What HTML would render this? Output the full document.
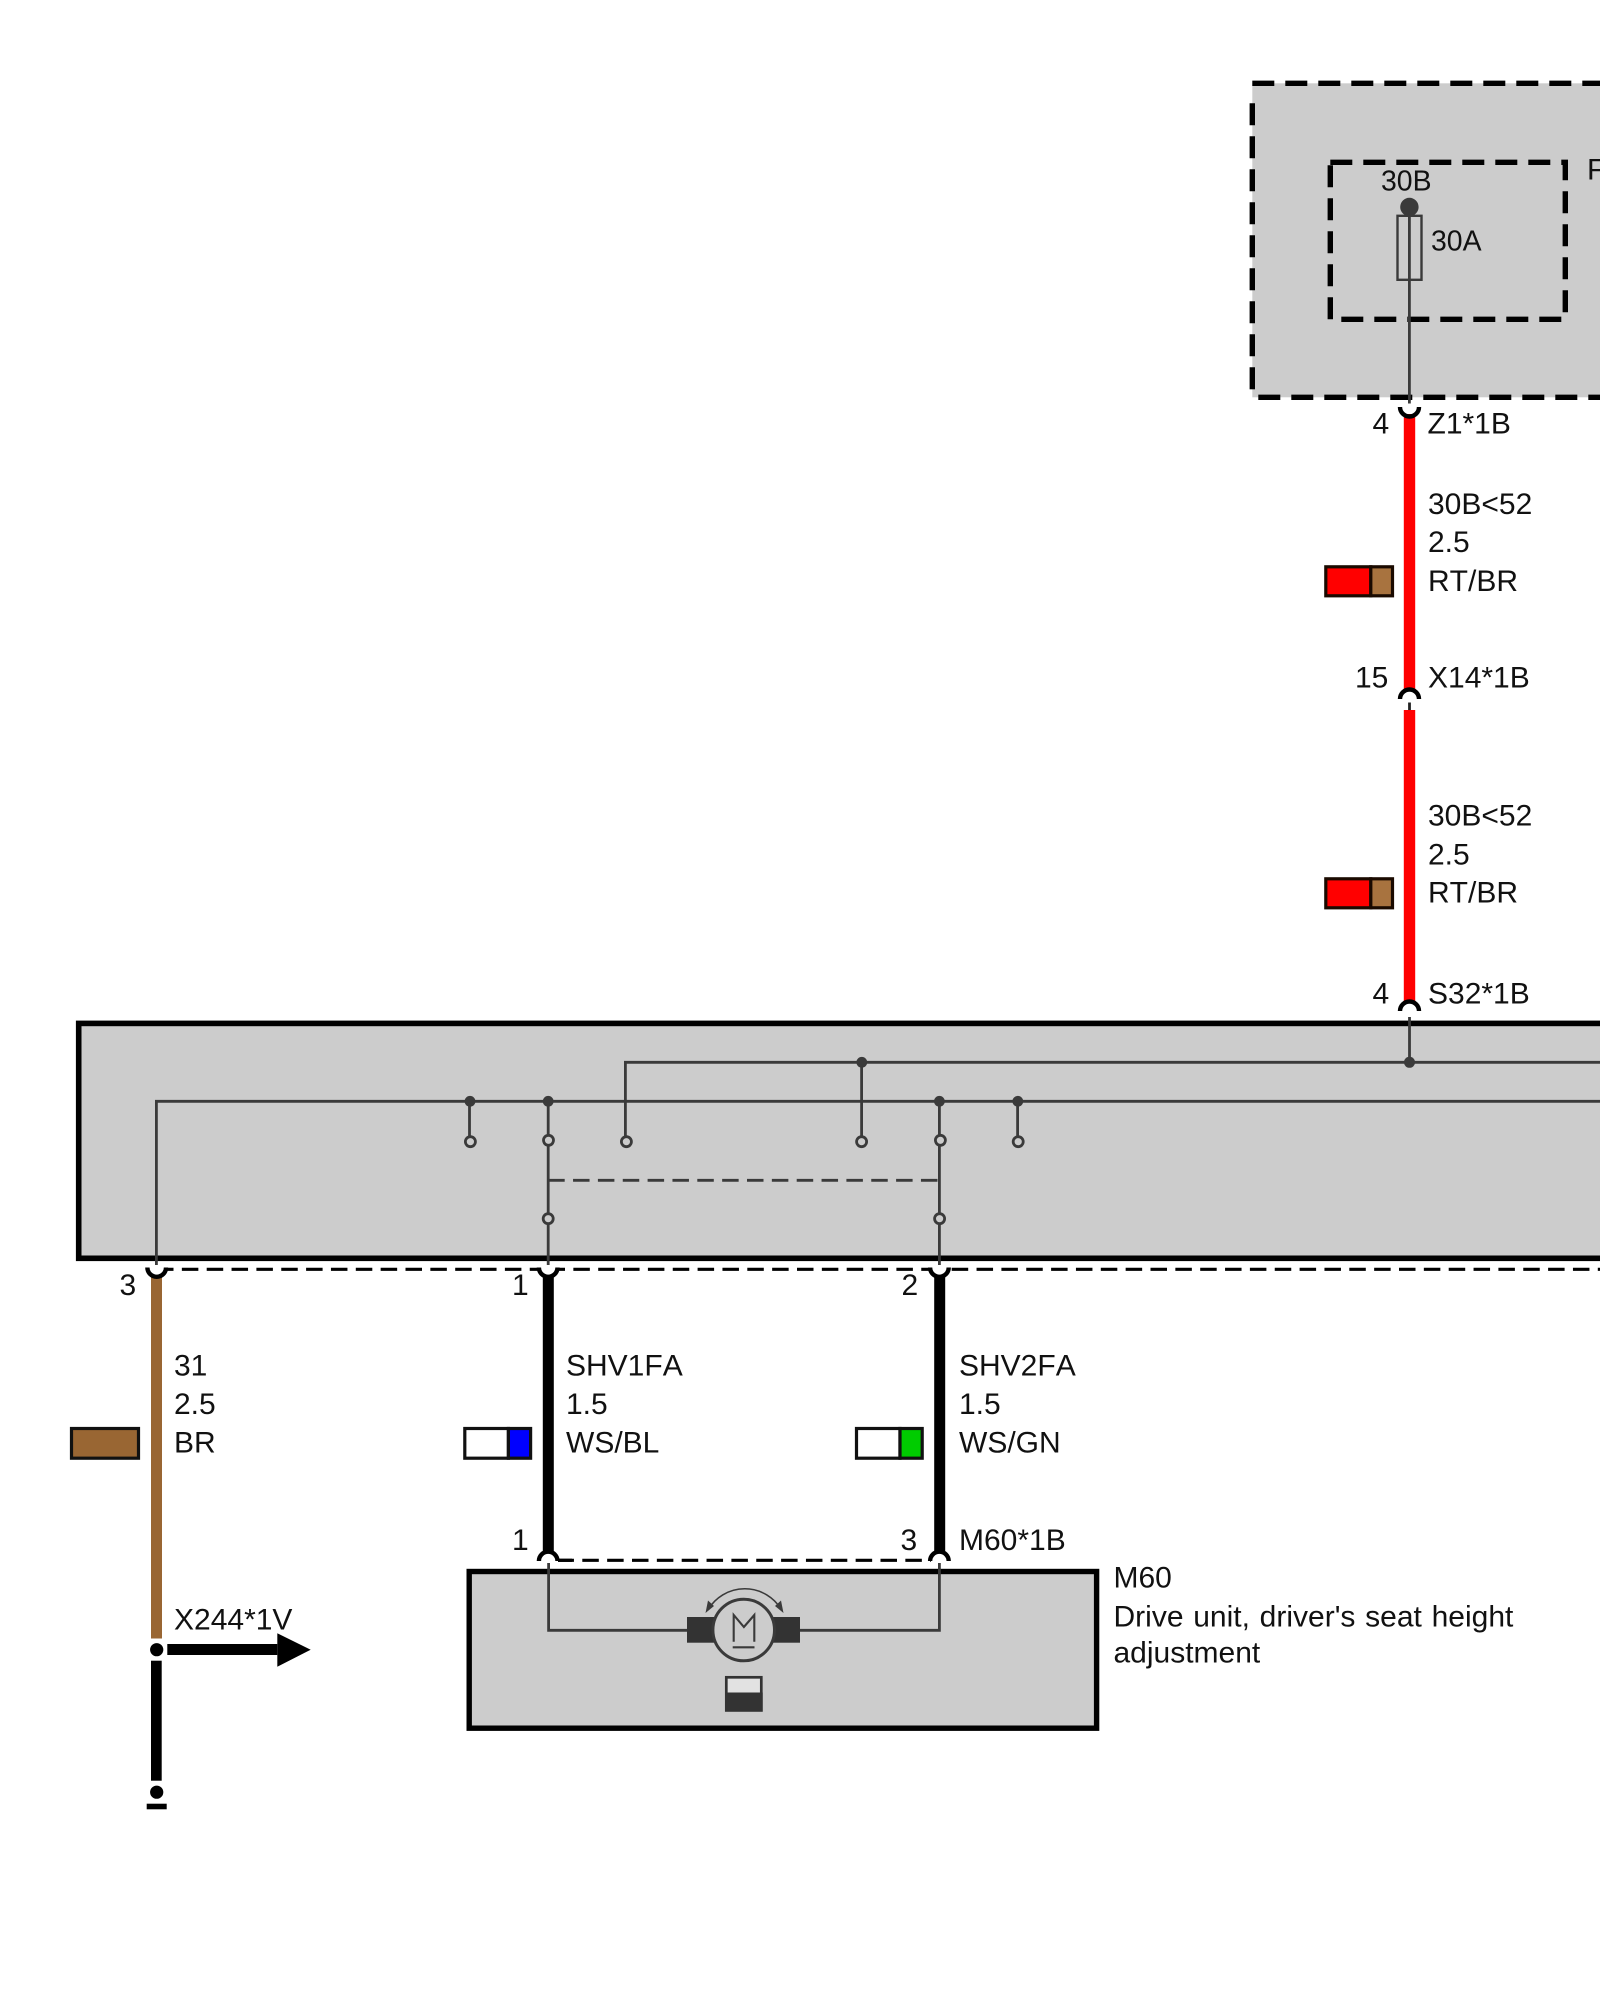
<!DOCTYPE html>
<html><head><meta charset="utf-8"><title>Wiring diagram</title>
<style>html,body{margin:0;padding:0;background:#fff}svg{display:block}text{font-family:"Liberation Sans",sans-serif;font-size:30px;fill:#111;font-kerning:none}</style>
</head><body>
<svg xmlns="http://www.w3.org/2000/svg" width="1600" height="2000" viewBox="0 0 1600 2000">
<rect width="1600" height="2000" fill="#fff"/>

<!-- upper fuse box -->
<rect x="1252.3" y="83.3" width="360" height="314" fill="#ccc"/>
<g fill="none" stroke="#000" stroke-width="5.4" stroke-dasharray="22 11">
<path d="M1252.3 83.3H1600"/>
<path d="M1252.3 103.3V397.3"/>
<path d="M1258.3 397.3H1600"/>
<path d="M1330.3 162.3H1565.3V319.3H1330.3V162.3"/>
</g>
<line x1="1409.4" y1="207" x2="1409.4" y2="403.5" stroke="#3a3a3a" stroke-width="2.8"/>
<circle cx="1409.4" cy="207" r="9.2" fill="#3a3a3a"/>
<rect x="1397.5" y="215.8" width="24" height="64" fill="none" stroke="#3a3a3a" stroke-width="2.4"/>
<text x="1381" y="190.7" style="font-size:28.4px">30B</text>
<text x="1431" y="250.7" style="font-size:28.4px">30A</text>
<text x="1587" y="179.3">F</text>

<!-- red wires -->
<rect x="1403.8" y="414" width="11.4" height="276" fill="#f00"/>
<rect x="1403.8" y="710" width="11.4" height="293" fill="#f00"/>
<path d="M1400 407A9.5 9.5 0 0 0 1419 407" fill="none" stroke="#000" stroke-width="4.4"/>
<path d="M1400 699A9.5 9.5 0 0 1 1419 699" fill="none" stroke="#000" stroke-width="4.4"/>
<line x1="1409.5" y1="702.5" x2="1409.5" y2="710" stroke="#222" stroke-width="2.8"/>
<path d="M1400 1011A9.5 9.5 0 0 1 1419 1011" fill="none" stroke="#000" stroke-width="4.4"/>

<text x="1372.5" y="433.3">4</text>
<text x="1427.5" y="433.3">Z1*1B</text>
<text x="1428" y="514">30B&lt;52</text>
<text x="1428" y="552">2.5</text>
<text x="1428" y="591">RT/BR</text>
<text x="1355" y="687.7">15</text>
<text x="1428" y="687.7">X14*1B</text>
<text x="1428" y="825.7">30B&lt;52</text>
<text x="1428" y="864.3">2.5</text>
<text x="1428" y="902.7">RT/BR</text>
<text x="1372.5" y="1003.3">4</text>
<text x="1428" y="1003.3">S32*1B</text>

<!-- red swatches -->
<g stroke="#1a0a00" stroke-width="3.2">
<rect x="1325.8" y="566.8" width="45" height="29" fill="#f00"/>
<rect x="1370.8" y="566.8" width="21.7" height="29" fill="#a8733f"/>
<rect x="1325.8" y="878.8" width="45" height="29" fill="#f00"/>
<rect x="1370.8" y="878.8" width="21.7" height="29" fill="#a8733f"/>
</g>

<!-- main control box -->
<rect x="78.7" y="1023.4" width="1540" height="234.9" fill="#ccc" stroke="#000" stroke-width="5.6"/>
<g fill="none" stroke="#3a3a3a" stroke-width="2.8">
<path d="M156.4 1265V1101.3H1600"/>
<path d="M625.4 1141.7V1062.3H1600"/>
<path d="M1409.5 1017V1062.3"/>
<path d="M469.5 1101.3V1141.7"/>
<path d="M548.2 1101.3V1265"/>
<path d="M861.6 1062.3V1141.7"/>
<path d="M939.4 1101.3V1265"/>
<path d="M1017.6 1101.3V1141.7"/>
<path d="M548.2 1180.3H939.4" stroke-dasharray="16.5 8.35"/>
</g>
<g fill="#3a3a3a">
<circle cx="470" cy="1101.3" r="5.4"/>
<circle cx="548.2" cy="1101.3" r="5.4"/>
<circle cx="861.8" cy="1062.3" r="5.4"/>
<circle cx="939.4" cy="1101.3" r="5.4"/>
<circle cx="1017.8" cy="1101.3" r="5.4"/>
<circle cx="1409.5" cy="1062.3" r="5.5"/>
</g>
<g fill="#ccc" stroke="#3a3a3a" stroke-width="2.8">
<circle cx="470.4" cy="1141.7" r="5"/>
<circle cx="548.5" cy="1140.3" r="5"/>
<circle cx="548.2" cy="1218.7" r="5"/>
<circle cx="626.4" cy="1141.7" r="5"/>
<circle cx="861.6" cy="1141.7" r="5"/>
<circle cx="940.4" cy="1140.3" r="5"/>
<circle cx="939.6" cy="1218.7" r="5"/>
<circle cx="1018.2" cy="1141.7" r="5"/>
</g>

<!-- dashed shield under main box -->
<g stroke="#000" stroke-width="3.2" fill="none" stroke-dasharray="16.5 8.35">
<line x1="165" y1="1269.3" x2="539" y2="1269.3" stroke-dashoffset="8"/>
<line x1="558" y1="1269.3" x2="931" y2="1269.3" stroke-dashoffset="9.5"/>
<line x1="951.7" y1="1269.3" x2="1600" y2="1269.3"/>
</g>

<!-- wires below box -->
<rect x="151" y="1277" width="11" height="361.5" fill="#963"/>
<rect x="542.8" y="1276" width="11" height="276" fill="#000"/>
<rect x="934.2" y="1276" width="11" height="276" fill="#000"/>
<g fill="none" stroke="#000" stroke-width="4.4">
<path d="M147.4 1267.5A9.3 9.3 0 0 0 166 1267.5"/>
<path d="M538.9 1267.5A9.3 9.3 0 0 0 557.5 1267.5"/>
<path d="M930.1 1267.5A9.3 9.3 0 0 0 948.7 1267.5"/>
<path d="M538.9 1561A9.3 9.3 0 0 1 557.5 1561"/>
<path d="M930.1 1561A9.3 9.3 0 0 1 948.7 1561"/>
</g>

<text x="119.5" y="1295">3</text>
<text x="512" y="1295">1</text>
<text x="901.5" y="1295">2</text>
<text x="174" y="1375.5">31</text>
<text x="174" y="1414">2.5</text>
<text x="174" y="1452.7">BR</text>
<text x="566" y="1375.5">SHV1FA</text>
<text x="566" y="1414">1.5</text>
<text x="566" y="1452.7">WS/BL</text>
<text x="959" y="1375.5">SHV2FA</text>
<text x="959" y="1414">1.5</text>
<text x="959" y="1452.7">WS/GN</text>
<text x="512" y="1550">1</text>
<text x="900.5" y="1550">3</text>
<text x="959" y="1550">M60*1B</text>

<!-- swatches -->
<g stroke="#111" stroke-width="3.2">
<rect x="71.5" y="1428.5" width="67" height="29.7" fill="#963"/>
<rect x="464.8" y="1428.5" width="43.6" height="29.7" fill="#fff"/>
<rect x="508.4" y="1428.5" width="22.2" height="29.7" fill="#00f"/>
<rect x="856.5" y="1428.5" width="43.5" height="29.7" fill="#fff"/>
<rect x="900" y="1428.5" width="22.2" height="29.7" fill="#0c0"/>
</g>

<!-- M60 -->
<line x1="558" y1="1560.3" x2="931" y2="1560.3" stroke="#000" stroke-width="3.2" stroke-dasharray="16.5 8.35" stroke-dashoffset="-24.3"/>
<line x1="558" y1="1560.3" x2="572" y2="1560.3" stroke="#000" stroke-width="3.2"/>
<rect x="469.2" y="1571.5" width="627.4" height="156.7" fill="#ccc" stroke="#000" stroke-width="5.4"/>
<path d="M548.6 1563V1630.3H687M800 1630.3H939.4V1563" fill="none" stroke="#3a3a3a" stroke-width="2.8"/>
<rect x="687" y="1617" width="29" height="25.7" fill="#333"/>
<rect x="771.5" y="1617" width="28.5" height="25.7" fill="#333"/>
<circle cx="743.7" cy="1630" r="30.8" fill="#ccc" stroke="#3a3a3a" stroke-width="3"/>
<path d="M733.7 1641.7V1615L743.9 1627L754.3 1615V1641.7M732.7 1647.3H754.5" fill="none" stroke="#3a3a3a" stroke-width="2.1"/>
<path d="M708.5 1609A42.6 42.6 0 0 1 781 1609" fill="none" stroke="#3a3a3a" stroke-width="1.5"/>
<path d="M705.5 1613L708 1600.5L714 1606ZM783.5 1613L781 1600.5L775 1606Z" fill="#3a3a3a"/>
<rect x="726.3" y="1677.3" width="35" height="33" fill="#e2e2e2" stroke="#333" stroke-width="2.7"/>
<rect x="725" y="1692.5" width="37.7" height="19.2" fill="#333"/>
<text x="1113.5" y="1587.7">M60</text>
<text x="1113.5" y="1626.7" style="word-spacing:1.4px">Drive unit, driver's seat height</text>
<text x="1113.5" y="1662.3">adjustment</text>

<!-- lower-left ground / arrow -->
<rect x="151" y="1660.7" width="10.7" height="120" fill="#000"/>
<rect x="167.3" y="1644" width="110" height="11" fill="#000"/>
<path d="M277.3 1633.3L310.7 1649.7L277.3 1666.7Z" fill="#000"/>
<circle cx="156.7" cy="1649.7" r="6.6" fill="#000"/>
<circle cx="156.7" cy="1792.2" r="6.6" fill="#000"/>
<rect x="146.7" y="1803.7" width="20" height="5.6" fill="#000"/>
<text x="174" y="1629.3">X244*1V</text>
</svg>
</body></html>
